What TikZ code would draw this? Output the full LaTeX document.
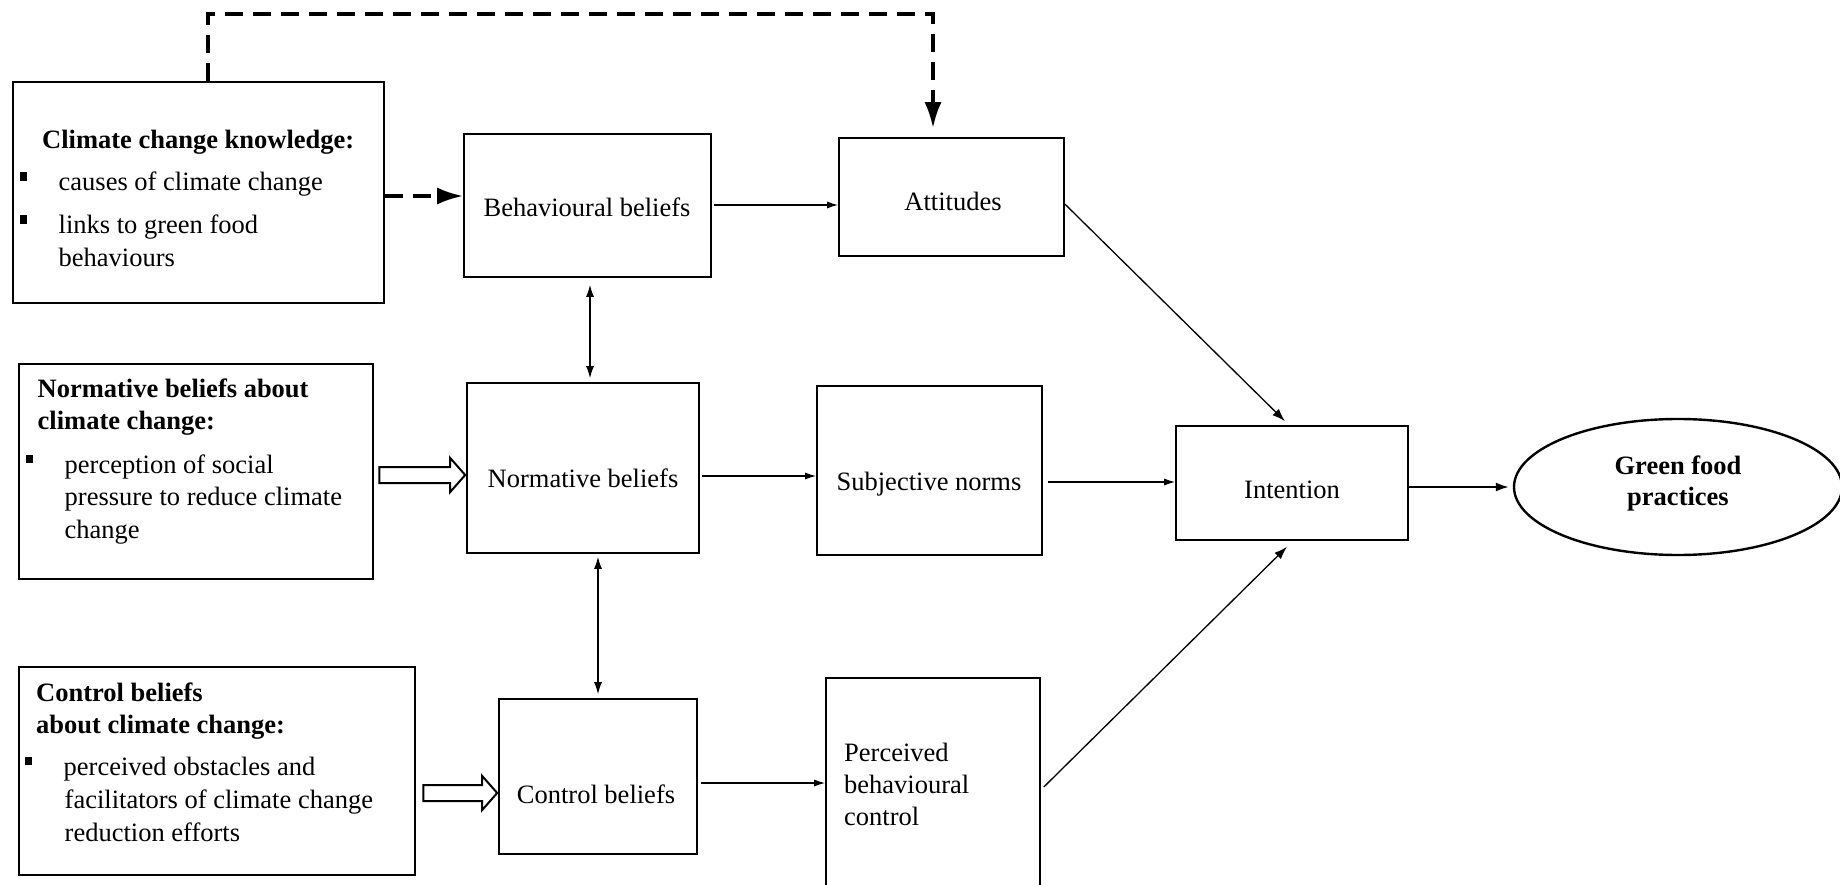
\documentclass[tikz,border=0pt]{standalone}
\usepackage{fontspec}
\setmainfont{Liberation Serif}
\usetikzlibrary{arrows.meta,calc,shapes.geometric}
\newcommand{\sqbul}{\makebox[38.5pt][l]{\rule[10pt]{7pt}{8.5pt}}}
\begin{document}
\begin{tikzpicture}[x=1pt,y=-1pt,
  box/.style={draw,line width=1.6pt,inner sep=0pt,rectangle},
  srcbox/.style={draw,line width=2.6pt,inner sep=0pt,rectangle},
  txt/.style={inner sep=0pt,anchor=base,font=\fontsize{26.5}{32}\selectfont},
  ltxt/.style={txt,anchor=base west},
  btxt/.style={ltxt,font=\fontsize{26.5}{32}\selectfont\bfseries},
  link/.style={line width=1.3pt,-{Latex[length=11pt,width=7pt]}},
  both/.style={line width=1.3pt,{Latex[length=12pt,width=8pt]}-{Latex[length=12pt,width=8pt]}},
  dlink/.style={line width=3.5pt,dash pattern=on 18pt off 10pt,line join=miter,-{Latex[length=26pt,width=17pt]}},
  hollow/.style={draw,line width=2pt,fill=white,line join=miter}
]
\useasboundingbox (0,0) rectangle (1840,885);

% --- source boxes on the left ---
\node[box,line width=2pt,minimum width=371pt,minimum height=221pt] (kb) at (198.5,192.5) {};
\node[srcbox,minimum width=354pt,minimum height=215pt] (nbl) at (196,471.5) {};
\node[srcbox,minimum width=396pt,minimum height=208pt] (cbl) at (217,771) {};

\node[btxt] (kb1) at (42,149) {Climate change knowledge:};
\node[ltxt] (kb2) at (20,191) {\sqbul causes of climate change};
\node[ltxt] (kb3) at (20,234) {\sqbul links to green food};
\node[ltxt] (kb4) at (58.5,267) {behaviours};

\node[btxt] (nbl1) at (37.5,397) {Normative beliefs about};
\node[btxt] (nbl2) at (37.5,429) {climate change:};
\node[ltxt] (nbl3) at (26,473) {\sqbul perception of social};
\node[ltxt] (nbl4) at (64.5,505) {pressure to reduce climate};
\node[ltxt] (nbl5) at (64.5,538) {change};

\node[btxt] (cbl1) at (36,701) {Control beliefs};
\node[btxt] (cbl2) at (36,733) {about climate change:};
\node[ltxt] (cbl3) at (25,775) {\sqbul perceived obstacles and};
\node[ltxt] (cbl4) at (64.5,808) {facilitators of climate change};
\node[ltxt] (cbl5) at (64.5,841) {reduction efforts};

% --- belief boxes ---
\node[box,minimum width=247pt,minimum height=143pt] (bb) at (587.5,205.5) {};
\node[txt] (bbt) at (587,217) {Behavioural beliefs};
\node[box,minimum width=232pt,minimum height=170pt] (nb) at (583,468) {};
\node[txt] (nbt) at (583,487) {Normative beliefs};
\node[box,minimum width=198pt,minimum height=155pt] (cb) at (598,776.5) {};
\node[txt] (cbt) at (596,803) {Control beliefs};

% --- constructs ---
\node[box,minimum width=225pt,minimum height=118pt] (att) at (951.5,197) {};
\node[txt] (attt) at (953,211) {Attitudes};
\node[box,minimum width=225pt,minimum height=169pt] (sn) at (929.5,470.5) {};
\node[txt] (snt) at (929,490) {Subjective norms};
\node[box,minimum width=214pt,minimum height=222pt] (pbc) at (933,789) {};
\node[ltxt] (pbc1) at (844,761) {Perceived};
\node[ltxt] (pbc2) at (844,793) {behavioural};
\node[ltxt] (pbc3) at (844,825) {control};

\node[box,minimum width=232pt,minimum height=114pt] (int) at (1292,483) {};
\node[txt] (intt) at (1292,498) {Intention};

\node[draw,ellipse,line width=2.4pt,minimum width=328pt,minimum height=136pt,inner sep=0pt] (gf) at (1678,487) {};
\node[txt,font=\fontsize{26.5}{32}\selectfont\bfseries] (gf1) at (1678,474) {Green food};
\node[txt,font=\fontsize{26.5}{32}\selectfont\bfseries] (gf2) at (1678,505) {practices};

% --- row / column guides for straight connectors ---
\coordinate (rowK) at (0,196);
\coordinate (rowA) at (0,205);
\coordinate (rowN) at (0,476);
\coordinate (rowS) at (0,482);
\coordinate (rowC) at (0,783);
\coordinate (colA) at (590,0);
\coordinate (colB) at (598,0);
\coordinate (kTop) at ($(kb.north west)+(196,0)$);
\coordinate (overTop) at (933,14);

% --- dashed knowledge links ---
\draw[dlink] (kb.east |- rowK) -- (bb.west |- rowK);
\draw[dlink,shorten >=9pt] (kTop) |- (overTop) -- (overTop |- att.north);

% --- solid links ---
\draw[link] ($(bb.east |- rowA)+(2,0)$) -- (att.west |- rowA);
\draw[both,shorten <=7pt,shorten >=4pt] (bb.south -| colA) -- (nb.north -| colA);
\draw[both,shorten <=3pt,shorten >=4pt] (nb.south -| colB) -- (cb.north -| colB);
\draw[link] ($(nb.east |- rowN)+(2,0)$) -- (sn.west |- rowN);
\draw[link] ($(sn.east |- rowS)+(5,0)$) -- (int.west |- rowS);
\draw[link] ($(cb.east |- rowC)+(3,0)$) -- (pbc.west |- rowC);
\draw[link,-{Latex[length=13pt,width=9pt]}] ($(att.east)+(0,7)$) -- ($(int.north)+(-7,-4)$);
\draw[link,-{Latex[length=13pt,width=9pt]}] ($(pbc.east)+(3,-2)$) -- ($(int.south)+(-5,6)$);
\draw[line width=2pt,-{Latex[length=13pt,width=9pt]},shorten >=4pt] ($(int.east)+(0,4)$) -- (gf.west);

% --- block arrows from the source boxes ---
\draw[hollow] let \p1=($(nbl.east)+(5,3.5)$), \p2=(nb.west) in
  (\x1,\y1+8pt) -- (\x2-16pt,\y1+8pt) -- (\x2-16pt,\y1+17pt) -- (\x2-1pt,\y1)
  -- (\x2-16pt,\y1-17pt) -- (\x2-16pt,\y1-8pt) -- (\x1,\y1-8pt) -- cycle;
\draw[hollow] let \p1=($(cbl.east)+(7,22)$), \p2=(cb.west) in
  (\x1,\y1+8pt) -- (\x2-16pt,\y1+8pt) -- (\x2-16pt,\y1+17pt) -- (\x2-1pt,\y1)
  -- (\x2-16pt,\y1-17pt) -- (\x2-16pt,\y1-8pt) -- (\x1,\y1-8pt) -- cycle;
\end{tikzpicture}
\end{document}
